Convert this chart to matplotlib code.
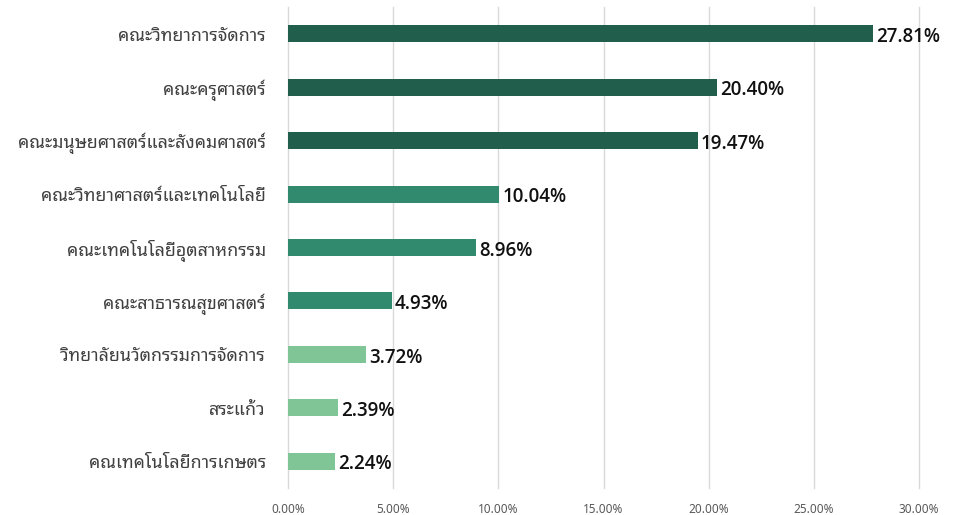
import matplotlib
matplotlib.use("Agg")
import matplotlib.pyplot as plt
from matplotlib import font_manager
from matplotlib.ticker import PercentFormatter

# data
faculties = [
    "คณะวิทยาการจัดการ",
    "คณะครุศาสตร์",
    "คณะมนุษยศาสตร์และสังคมศาสตร์",
    "คณะวิทยาศาสตร์และเทคโนโลยี",
    "คณะเทคโนโลยีอุตสาหกรรม",
    "คณะสาธารณสุขศาสตร์",
    "วิทยาลัยนวัตกรรมการจัดการ",
    "สระแก้ว",
    "คณเทคโนโลยีการเกษตร",
]
shares = [27.81, 20.40, 19.47, 10.04, 8.96, 4.93, 3.72, 2.39, 2.24]
groups = ["dark", "dark", "dark", "mid", "mid", "mid", "light", "light", "light"]
group_colors = {"dark": "#215E4B", "mid": "#318A6E", "light": "#7FC595"}

# pick a Thai font that is installed
available = {f.name for f in font_manager.fontManager.ttflist}
thai_prefs = ["Noto Sans Thai Looped", "Sarabun", "Noto Sans Thai", "Anuphan",
              "IBM Plex Sans Thai Looped", "IBM Plex Sans Thai", "Bai Jamjuree",
              "Thasadith", "Trirong"]
thai_font = next((f for f in thai_prefs if f in available), "DejaVu Sans")
plt.rcParams["font.family"] = [thai_font, "DejaVu Sans"]

fig = plt.figure(figsize=(9.59, 5.15), dpi=100)
ax = fig.add_axes([288 / 959, 1 - 488 / 515, (919 - 288) / 959, (488 - 7) / 515])

ypos = list(range(len(faculties)))
colors = [group_colors[g] for g in groups]
bars = ax.barh(ypos, shares, height=0.32, color=colors, zorder=3)
ax.set_ylim(len(faculties) - 0.5, -0.5)
ax.set_xlim(0, 30)
ax.set_xticks([0, 5, 10, 15, 20, 25, 30])
ax.xaxis.set_major_formatter(PercentFormatter(decimals=2))
ax.grid(axis="x", color="#D9D9D9", linewidth=1, zorder=0)
for gl in ax.xaxis.get_gridlines():
    gl.set_clip_on(False)

for b, v in zip(bars, shares):
    ax.text(b.get_width() + 0.15, b.get_y() + b.get_height() / 2 + 0.06, f"{v:.2f}%",
            va="center", ha="left", fontsize=13.5, fontweight="semibold",
            color="#111111", family=["Open Sans", "Noto Sans", "DejaVu Sans"])

ax.set_yticks(ypos)
ax.set_yticklabels(faculties, fontsize=12.8, color="#404040")
ax.tick_params(axis="y", length=0, pad=16)
ax.tick_params(axis="x", length=0, pad=11)
for lbl in ax.get_xticklabels():
    lbl.set_family(["Noto Sans", "DejaVu Sans"])
    lbl.set_fontsize(8.5)
    lbl.set_color("#595959")
for s in ax.spines.values():
    s.set_visible(False)

plt.savefig("out.png", dpi=100)
